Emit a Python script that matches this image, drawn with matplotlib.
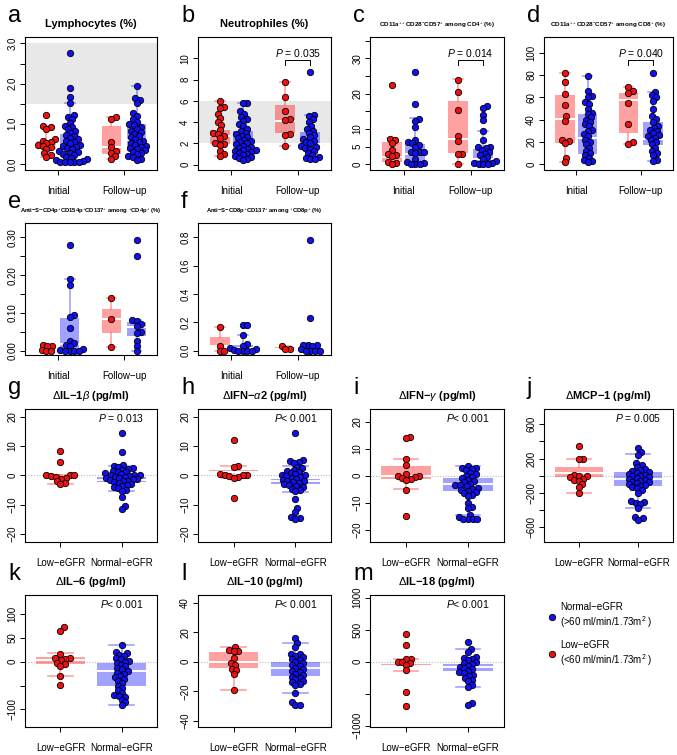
import numpy as np
import matplotlib
matplotlib.use("Agg")
import matplotlib.pyplot as plt
from matplotlib.lines import Line2D

plt.rcParams['font.family'] = ['Liberation Sans', 'DejaVu Sans']
plt.rcParams['mathtext.fontset'] = 'custom'
plt.rcParams['mathtext.rm'] = 'Liberation Sans'
plt.rcParams['mathtext.it'] = 'Liberation Sans:italic'
plt.rcParams['mathtext.bf'] = 'Liberation Sans:bold'
plt.rcParams['mathtext.fallback'] = 'stixsans'

# data ========================================================================
# a-f : groups = [low init, normal init, low follow-up, normal follow-up]
# box = [whislo, q1, med, q3, whishi]
lym_pts = [
    [1.21, 0.95, 0.92, 0.88, 0.62, 0.58, 0.55, 0.52, 0.47, 0.45, 0.42, 0.38, 0.27, 0.22, 0.18],
    [2.75, 1.90, 1.67, 1.52, 1.22, 1.17, 1.12, 1.02, 0.95, 0.92, 0.88, 0.82, 0.78, 0.73, 0.70,
     0.65, 0.62, 0.58, 0.55, 0.52, 0.48, 0.45, 0.42, 0.40, 0.37, 0.33, 0.30, 0.27, 0.25, 0.22,
     0.18, 0.15, 0.12, 0.10, 0.08, 0.06, 0.05, 0.05, 0.05, 0.04],
    [1.17, 1.12, 0.55, 0.43, 0.33, 0.28, 0.20, 0.13],
    [1.95, 1.63, 1.58, 1.52, 1.27, 1.20, 1.12, 1.05, 1.00, 0.97, 0.93, 0.88, 0.83, 0.80, 0.75,
     0.70, 0.66, 0.62, 0.58, 0.55, 0.52, 0.48, 0.45, 0.42, 0.40, 0.37, 0.34, 0.30, 0.27, 0.24,
     0.20, 0.17, 0.13, 0.10],
]
lym_box = [[0.18, 0.37, 0.45, 0.57, 0.95], [0.05, 0.20, 0.42, 0.75, 1.52],
           [0.13, 0.25, 0.43, 0.94, 1.17], [0.10, 0.33, 0.60, 1.00, 1.95]]

neu_pts = [
    [6.0, 5.4, 5.3, 4.8, 4.4, 4.0, 3.7, 3.3, 3.0, 2.9, 2.7, 2.5, 2.0, 1.9, 1.85, 1.3, 1.0, 0.8],
    [5.8, 5.75, 5.0, 4.8, 4.5, 4.3, 4.1, 3.8, 3.6, 3.4, 3.2, 3.0, 2.9, 2.7, 2.6, 2.5, 2.3, 2.2,
     2.1, 2.0, 1.9, 1.8, 1.7, 1.6, 1.5, 1.4, 1.35, 1.3, 1.2, 1.1, 1.0, 0.9, 0.8, 0.7, 0.6, 0.5, 0.4],
    [7.8, 6.4, 5.0, 4.3, 4.2, 2.9, 2.8, 1.8],
    [8.7, 4.7, 4.6, 4.3, 4.0, 3.6, 3.4, 3.2, 3.0, 2.8, 2.6, 2.4, 2.2, 2.1, 2.0, 1.8, 1.7, 1.6,
     1.5, 1.3, 1.1, 0.9, 0.7, 0.6, 0.5, 0.5],
]
neu_box = [[0.8, 1.9, 2.7, 3.3, 6.0], [0.4, 1.3, 1.8, 3.2, 5.8],
           [1.8, 3.0, 4.1, 5.6, 7.8], [0.5, 1.6, 1.9, 3.1, 4.7]]

cd4sen_pts = [
    [22.5, 7.3, 7.0, 6.0, 4.0, 3.0, 2.5, 2.3, 0.8, 0.3, 0.1],
    [26.0, 17.0, 12.8, 12.3, 10.5, 7.0, 6.2, 6.0, 5.5, 5.0, 3.5, 3.5, 3.5, 3.3, 1.5, 0.8, 0.3,
     0.1, 0.1, 0.1],
    [23.8, 20.5, 15.5, 8.0, 6.7, 3.0, 2.8, 0.2],
    [16.5, 16.0, 14.0, 12.5, 9.5, 7.0, 5.0, 4.8, 4.5, 4.0, 3.5, 3.0, 2.5, 2.0, 1.5, 1.0, 0.5,
     0.3, 0.2, 0.1, 0.1],
]
cd4sen_box = [[0.0, 0.6, 2.0, 6.2, 7.5], [0.0, 0.9, 3.0, 5.7, 13.0],
              [0.2, 3.1, 7.2, 17.8, 24.0], [0.0, 0.3, 1.5, 4.2, 9.3]]

cd8sen_pts = [
    [82, 74, 63, 53, 43, 39, 22, 21, 19, 6, 2],
    [79, 66, 61, 60, 56, 54, 50, 46, 45, 42, 40, 38, 36, 34, 31, 30, 27, 25, 22, 20, 18, 15,
     12, 10, 8, 6, 4, 3, 2],
    [69, 66, 64, 55, 36, 20, 18],
    [81.5, 65, 62, 60, 57, 50, 43, 41, 38, 34, 33, 31, 30, 28, 26, 25, 24, 22, 20, 18, 15, 12,
     10, 8, 4, 3],
]
cd8sen_box = [[2, 19.5, 41, 62, 82], [2, 9, 24, 45, 79],
              [18, 28, 58, 64, 69], [3, 17, 23, 38, 65]]

cd4s_pts = [
    [0.015, 0.013, 0.012, 0.003, 0.0, 0.0],
    [0.28, 0.19, 0.175, 0.095, 0.09, 0.06, 0.025, 0.02, 0.015, 0.012, 0.005, 0.003, 0.0, 0.0,
     0.0, 0.0],
    [0.14, 0.085, 0.01],
    [0.293, 0.25, 0.08, 0.078, 0.07, 0.065, 0.05, 0.048, 0.025, 0.012, 0.0],
]
cd4s_box = [[0.0, 0.001, 0.002, 0.004, 0.015], [0.0, 0.003, 0.018, 0.087, 0.19],
            [0.01, 0.048, 0.085, 0.11, 0.14], [0.0, 0.04, 0.063, 0.077, 0.08]]

cd8s_pts = [
    [0.165, 0.035, 0.0, 0.0],
    [0.18, 0.18, 0.11, 0.045, 0.035, 0.02, 0.01, 0.005, 0.0, 0.0, 0.0, 0.0],
    [0.035, 0.015, 0.01],
    [0.78, 0.23, 0.04, 0.04, 0.04, 0.03, 0.01, 0.0, 0.0, 0.0, 0.0],
]
cd8s_box = [[0.0, 0.025, 0.03, 0.095, 0.165], [0.0, 0.005, 0.02, 0.04, 0.11],
            [0.01, 0.012, 0.015, 0.025, 0.035], [0.0, 0.005, 0.01, 0.015, 0.04]]

# g-m : groups = [Low-eGFR, Normal-eGFR]
il1b_pts = [
    [8.5, 4.7, 0.1, 0.0, 0.0, -0.2, -0.5, -1.0, -1.2, -2.0, -2.5, -3.0],
    [14.5, 8.0, 3.5, 3.2, 3.0, 2.6, 2.3, 2.0, 1.6, 1.3, 1.0, 0.7, 0.4, 0.2, 0.0, 0.0, -0.2,
     -0.4, -0.6, -0.8, -1.0, -1.2, -1.4, -1.6, -1.8, -2.0, -2.3, -2.6, -3.0, -3.3, -3.6, -4.0,
     -4.4, -5.0, -5.5, -7.5, -10.5, -11.5],
]
il1b_box = [[-3.0, -1.3, -0.9, -0.5, 0.1], [-5.2, -2.3, -1.5, -0.6, 3.2]]

ifna_pts = [
    [12.0, 3.2, 2.8, 0.5, 0.2, 0.0, 0.0, -0.3, -0.5, -0.8, -7.7],
    [14.5, 5.2, 4.8, 4.5, 4.2, 3.0, 2.5, 2.0, 1.6, 1.2, 0.8, 0.5, 0.2, 0.0, -0.3, -0.6, -0.9,
     -1.2, -1.5, -1.8, -2.1, -2.4, -2.7, -3.0, -3.3, -3.7, -4.0, -4.5, -5.0, -5.5, -8.0, -11.0,
     -12.5, -14.3, -14.7, -15.0],
]
ifna_box = [[-0.8, 0.7, 1.2, 1.7, 3.3], [-5.7, -2.8, -2.0, -1.3, 3.2]]

ifng_pts = [
    [14.5, 14.0, 6.0, 3.8, 0.5, 0.0, -0.2, -0.5, -1.0, -1.3, -1.5, -5.2, -15.0],
    [3.5, 3.0, 2.8, 2.5, 2.0, 1.0, 0.5, 0.0, -0.5, -1.0, -1.5, -2.0, -2.5, -3.0, -3.3, -3.6,
     -4.0, -4.4, -4.8, -5.2, -5.6, -6.0, -6.5, -7.0, -7.5, -10.0, -11.5, -12.0, -14.5, -15.5,
     -16.0, -16.0, -16.0, -16.0],
]
ifng_box = [[-5.0, -1.3, 0.0, 3.5, 6.2], [-14.5, -5.8, -3.2, -0.8, 3.6]]

mcp1_pts = [
    [350, 200, 190, 10, 0, -10, -20, -40, -50, -60, -100, -130, -200],
    [320, 280, 240, 150, 120, 100, 80, 60, 50, 40, 30, 20, 10, 0, -10, -20, -30, -40, -50,
     -60, -70, -80, -90, -100, -110, -120, -130, -150, -170, -200, -300, -310, -320, -330,
     -380, -480, -500, -520],
]
mcp1_box = [[-200, -20, 30, 100, 200], [-380, -120, -40, 40, 250]]

il6_pts = [
    [72, 65, 17, 8, 7, 5, 3, -2, -5, -8, -30, -48],
    [35, 20, 18, 15, 12, 8, 5, 2, 0, -3, -6, -10, -13, -16, -20, -23, -26, -30, -33, -36, -40,
     -45, -50, -55, -60, -65, -70, -72, -75, -80, -85, -90],
]
il6_box = [[-30, -4, 3, 10, 18], [-90, -50, -20, -2, 35]]

il10_pts = [
    [10, 8, 7.5, 7, 2.5, -1, -2.5, -5, -5.5, -8, -19],
    [16, 13, 10, 5, 5, 4, 3, 2, 1, 0, -1, -2, -3, -4, -5, -6, -7, -8, -9, -10, -11, -12, -13,
     -14, -15, -16, -21, -27, -29, -29],
]
il10_box = [[-19, -4.5, 0.0, 6.5, 10], [-21, -9.5, -4, -0.2, 13]]

il18_pts = [
    [440, 260, 50, 40, 0, -10, -20, -50, -130, -480, -690],
    [300, 200, 150, 80, 60, 40, 20, 0, -20, -40, -60, -80, -100, -120, -140, -160, -180, -200,
     -220, -250, -280, -300, -360, -400, -640, -680],
]
il18_box = [[-140, -90, -60, -40, 50], [-390, -150, -90, -30, 200]]

group_labels_time = ['Initial', 'Follow−up']
group_labels_gfr = ['Low−eGFR', 'Normal−eGFR']
legend_labels = ['Normal−eGFR\n(>60 ml/min/1.73m$^2$ )', 'Low−eGFR\n(<60 ml/min/1.73m$^2$ )']

# layout (pixels) ==============================================================
W, H = 677, 755
col_x = [(25, 157), (198, 331), (370, 504), (544, 673)]
row_y = [(37, 170), (223, 355), (409, 542), (595, 727)]

RED = '#F01010'
BLUE = '#1010F0'
RED_BOX = (1, 0, 0, 0.37)
BLUE_BOX = (0, 0, 1, 0.37)

fig = plt.figure(figsize=(W / 100, H / 100), dpi=100)


def swarm(vals, ppy, d):
    ys = np.asarray(vals, float) * ppy
    xs = np.zeros(len(ys))
    placed = []
    for i in np.argsort(ys, kind='stable'):
        y = ys[i]
        cands = [0.0]
        for xj, yj in placed:
            dy = y - yj
            if abs(dy) < d:
                dx = np.sqrt(d * d - dy * dy)
                cands += [xj + dx, xj - dx]
        cands.sort(key=abs)
        for c in cands:
            if all((c - xj) ** 2 + (y - yj) ** 2 >= d * d - 1e-6 for xj, yj in placed):
                xs[i] = c
                break
        placed.append((xs[i], y))
    return xs


def panel(r, c, letter, title, pts, box, ylim, yticks, ylabels, xlim, pos, width,
          xticks, xlabels, tsize=8, band=None, zero=False, bracket=None, ptext=None):
    x0, x1 = col_x[c]
    y0, y1 = row_y[r]
    ax = fig.add_axes([x0 / W, 1 - y1 / H, (x1 - x0) / W, (y1 - y0) / H])
    ax.set_xlim(xlim)
    ax.set_ylim(ylim)
    ppx = (x1 - x0) / (xlim[1] - xlim[0])
    ppy = (y1 - y0) / (ylim[1] - ylim[0])
    if band:
        ax.axhspan(band[0], band[1], color='#E8E8E8', lw=0, zorder=0)
    if zero:
        ax.axhline(0, color='#BBBBBB', ls=(0, (1, 1.5)), lw=0.8, zorder=0.5)
    ncol = len(pts)
    for k in range(ncol):
        bcol = RED_BOX if k % 2 == 0 else BLUE_BOX
        pcol = RED if k % 2 == 0 else BLUE
        s = box[k]
        st = [dict(whislo=s[0], q1=s[1], med=s[2], q3=s[3], whishi=s[4])]
        ax.bxp(st, positions=[pos[k]], widths=width, capwidths=width * 0.5,
               patch_artist=True, showfliers=False, manage_ticks=False,
               boxprops=dict(facecolor=bcol, edgecolor='none'),
               medianprops=dict(color='white', lw=1.4),
               whiskerprops=dict(color=bcol, lw=1.2),
               capprops=dict(color=bcol, lw=1.2), zorder=1)
        off = swarm(pts[k], ppy, 4.6)
        ax.scatter(pos[k] + off / ppx, pts[k], s=21, color=pcol, edgecolors='black',
                   linewidths=0.6, zorder=3, clip_on=False)
    ax.set_xticks(xticks)
    ax.set_xticklabels(xlabels)
    ax.set_yticks(yticks)
    ax.set_yticklabels(ylabels)
    for sp in ax.spines.values():
        sp.set_linewidth(0.8)
    ax.tick_params(length=3.6, width=0.7, labelsize=7, pad=2)
    ax.tick_params(axis='x', pad=8)
    plt.setp(ax.get_yticklabels(), rotation=90, va='center')
    ax.set_title(title, fontsize=tsize, fontweight='bold', pad=7)
    fig.text((x0 - 17) / W, 1 - (y0 - 15) / H, letter, fontsize=17, ha='left', va='baseline')
    tr = ax.get_xaxis_transform()
    if bracket:
        xa, xb = bracket
        ax.plot([xa, xa, xb, xb], [0.79, 0.827, 0.827, 0.79], transform=tr,
                color='black', lw=0.7)
        ax.text((xa + xb) / 2, 0.85, ptext, transform=tr, ha='center', va='baseline',
                fontsize=7.5)
    elif ptext:
        ax.text(pos[1], 0.90, ptext, transform=tr, ha='center', va='baseline', fontsize=7.5)
    return ax


pos4 = [1.15, 1.85, 3.12, 3.88]
xl4 = (0.5, 4.5)
pos2 = [1, 2]
xl2 = (0.42, 2.58)

panel(0, 0, 'a', 'Lymphocytes (%)', lym_pts, lym_box, (-0.15, 3.16),
      [0, 0.5, 1, 1.5, 2, 2.5, 3], ['0.0', '', '1.0', '', '2.0', '', '3.0'],
      xl4, pos4, 0.6, [1.5, 3.5], group_labels_time, band=(1.5, 3.0))
panel(0, 1, 'b', 'Neutrophiles (%)', neu_pts, neu_box, (-0.5, 12.0),
      [0, 2, 4, 6, 8, 10], ['0', '2', '4', '6', '8', '10'],
      xl4, pos4, 0.6, [1.5, 3.5], group_labels_time, band=(2.0, 6.0),
      bracket=(pos4[2], pos4[3]), ptext='$P$ = 0.035')
panel(0, 2, 'c', r'CD11a$^{++}$CD28$^{-}$CD57$^{+}$ among CD4$^{+}$ (%)', cd4sen_pts,
      cd4sen_box, (-1.6, 36.0), [0, 5, 10, 15, 20, 25, 30, 35],
      ['0', '5', '10', '', '20', '', '30', ''],
      xl4, pos4, 0.6, [1.5, 3.5], group_labels_time, tsize=4.5,
      bracket=(pos4[2], pos4[3]), ptext='$P$ = 0.014')
panel(0, 3, 'd', r'CD11a$^{++}$CD28$^{-}$CD57$^{+}$ among CD8$^{+}$ (%)', cd8sen_pts,
      cd8sen_box, (-5, 114), [0, 20, 40, 60, 80, 100], ['0', '20', '40', '60', '80', '100'],
      xl4, pos4, 0.6, [1.5, 3.5], group_labels_time, tsize=4.5,
      bracket=(pos4[2], pos4[3]), ptext='$P$ = 0.040')
panel(1, 0, 'e', r'Anti−S−CD4p$^{+}$CD154p$^{+}$CD137$^{+}$ among ${}^{+}$CD4p$^{+}$ (%)',
      cd4s_pts, cd4s_box, (-0.0114, 0.338), [0, 0.05, 0.1, 0.15, 0.2, 0.25, 0.3],
      ['0.00', '', '0.10', '', '0.20', '', '0.30'],
      xl4, pos4, 0.6, [1.5, 3.5], group_labels_time, tsize=4.2)
panel(1, 1, 'f', r'Anti−S−CD8p$^{+}$CD137$^{+}$ among ${}^{+}$CD8p$^{+}$ (%)',
      cd8s_pts, cd8s_box, (-0.03, 0.9), [0, 0.2, 0.4, 0.6, 0.8],
      ['0.0', '0.2', '0.4', '0.6', '0.8'],
      xl4, pos4, 0.6, [1.5, 3.5], group_labels_time, tsize=4.2)

t20 = [-20, -10, 0, 10, 20]
t20l = ['−20', '−10', '0', '10', '20']
panel(2, 0, 'g', r'$\Delta$IL−1$\beta$ (pg/ml)', il1b_pts, il1b_box, (-22.8, 22.7), t20, t20l,
      xl2, pos2, 0.8, pos2, group_labels_gfr, zero=True, ptext='$P$ = 0.013')
panel(2, 1, 'h', r'$\Delta$IFN−$\alpha$2 (pg/ml)', ifna_pts, ifna_box, (-22.8, 22.7), t20, t20l,
      xl2, pos2, 0.8, pos2, group_labels_gfr, zero=True, ptext='$P$< 0.001')
panel(2, 2, 'i', r'$\Delta$IFN−$\gamma$ (pg/ml)', ifng_pts, ifng_box, (-24.6, 24.7), t20, t20l,
      xl2, pos2, 0.8, pos2, group_labels_gfr, zero=True, ptext='$P$< 0.001')
panel(2, 3, 'j', r'$\Delta$MCP−1 (pg/ml)', mcp1_pts, mcp1_box, (-775, 778),
      [-600, -400, -200, 0, 200, 400, 600], ['−600', '', '−200', '', '200', '', '600'],
      xl2, pos2, 0.8, pos2, group_labels_gfr, zero=True, ptext='$P$ = 0.005')
panel(3, 0, 'k', r'$\Delta$IL−6 (pg/ml)', il6_pts, il6_box, (-137, 140),
      [-100, -50, 0, 50, 100], ['−100', '', '0', '50', '100'],
      xl2, pos2, 0.8, pos2, group_labels_gfr, zero=True, ptext='$P$< 0.001')
panel(3, 1, 'l', r'$\Delta$IL−10 (pg/ml)', il10_pts, il10_box, (-44.2, 45.2),
      [-40, -20, 0, 20, 40], ['−40', '−20', '0', '20', '40'],
      xl2, pos2, 0.8, pos2, group_labels_gfr, zero=True, ptext='$P$< 0.001')
panel(3, 2, 'm', r'$\Delta$IL−18 (pg/ml)', il18_pts, il18_box, (-1020, 1042),
      [-1000, -500, 0, 500, 1000], ['−1000', '', '0', '500', '1000'],
      xl2, pos2, 0.8, pos2, group_labels_gfr, zero=True, ptext='$P$< 0.001')

handles = [Line2D([], [], marker='o', ls='none', mfc=BLUE, mec='black', mew=0.6, ms=4.6),
           Line2D([], [], marker='o', ls='none', mfc=RED, mec='black', mew=0.6, ms=4.6)]
fig.legend(handles, legend_labels, loc='upper left', bbox_to_anchor=(543 / W, 1 - 598 / H),
           frameon=False, fontsize=7, handletextpad=0.4, handlelength=1.0,
           labelspacing=1.0, borderaxespad=0)

fig.savefig('out.png', dpi=100)
